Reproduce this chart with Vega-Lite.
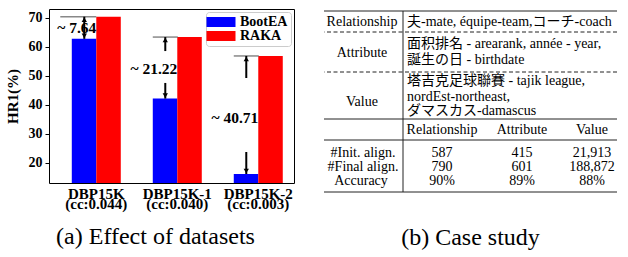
{
  "$schema": "https://vega.github.io/schema/vega-lite/v6.json",
  "background": "white",
  "padding": {"left": 4, "top": 8, "right": 0, "bottom": 0},
  "spacing": 28,
  "resolve": {"scale": {"color": "independent"}, "legend": {"color": "independent"}},
  "config": {
    "font": "Liberation Serif",
    "view": {"stroke": null},
    "axisY": {"grid": false, "domain": false, "tickSize": 4, "tickColor": "black", "labelPadding": 3, "labelFont": "Liberation Serif", "labelFontSize": 14, "labelFontWeight": "bold", "labelColor": "black", "labelOverlap": false, "titleFont": "Liberation Serif", "titleFontSize": 15, "titleFontWeight": "bold", "titleColor": "black", "titlePadding": 8},
    "axisX": {"grid": false, "ticks": false, "domain": false, "labelAngle": 0, "labelFont": "Liberation Serif", "labelFontSize": 15, "labelFontWeight": "bold", "labelLineHeight": 10, "labelPadding": 3, "labelColor": "black", "labelOverlap": false}
  },
  "datasets": {
    "bars": [
      {"dataset": "DBP15K (cc:0.044)", "method": "BootEA", "hr1": 62.8},
      {"dataset": "DBP15K (cc:0.044)", "method": "RAKA", "hr1": 70.44},
      {"dataset": "DBP15K-1 (cc:0.040)", "method": "BootEA", "hr1": 42.2},
      {"dataset": "DBP15K-1 (cc:0.040)", "method": "RAKA", "hr1": 63.42},
      {"dataset": "DBP15K-2 (cc:0.003)", "method": "BootEA", "hr1": 16.2},
      {"dataset": "DBP15K-2 (cc:0.003)", "method": "RAKA", "hr1": 56.91}
    ],
    "gaps": [
      {"dataset": "DBP15K (cc:0.044)", "ref": 70.44, "label": "~ 7.64", "labelAt": 66.6},
      {"dataset": "DBP15K-1 (cc:0.040)", "ref": 63.42, "label": "~ 21.22", "labelAt": 52.4},
      {"dataset": "DBP15K-2 (cc:0.003)", "ref": 56.91, "label": "~ 40.71", "labelAt": 35.5}
    ],
    "arrows": [
      {"dataset": "DBP15K (cc:0.044)", "from": 62.8, "to": 70.44},
      {"dataset": "DBP15K-1 (cc:0.040)", "from": 58.6, "to": 63.42},
      {"dataset": "DBP15K-1 (cc:0.040)", "from": 47.6, "to": 42.2},
      {"dataset": "DBP15K-2 (cc:0.003)", "from": 49.3, "to": 56.91},
      {"dataset": "DBP15K-2 (cc:0.003)", "from": 23.8, "to": 16.2}
    ],
    "heads": [
      {"dataset": "DBP15K (cc:0.044)", "at": 70.44, "dir": "up"},
      {"dataset": "DBP15K (cc:0.044)", "at": 62.8, "dir": "down"},
      {"dataset": "DBP15K-1 (cc:0.040)", "at": 63.42, "dir": "up"},
      {"dataset": "DBP15K-1 (cc:0.040)", "at": 42.2, "dir": "down"},
      {"dataset": "DBP15K-2 (cc:0.003)", "at": 56.91, "dir": "up"},
      {"dataset": "DBP15K-2 (cc:0.003)", "at": 16.2, "dir": "down"}
    ],
    "hrules": [
      {"y": 2, "kind": "solid"},
      {"y": 23, "kind": "dashed"},
      {"y": 63, "kind": "dashed"},
      {"y": 110, "kind": "solid"},
      {"y": 131, "kind": "solid"},
      {"y": 183, "kind": "solid"}
    ],
    "vrules": [{"x": 79, "top": 2, "bottom": 183}],
    "cells": [
      {"part": "label", "col": 38, "row": 13, "text": "Relationship"},
      {"part": "label", "col": 38, "row": 44, "text": "Attribute"},
      {"part": "label", "col": 38, "row": 93, "text": "Value"},
      {"part": "example", "col": 83, "row": 13, "text": "夫-mate, équipe-team,コーチ-coach"},
      {"part": "example", "col": 83, "row": 35, "text": "面积排名 - arearank, année - year,"},
      {"part": "example", "col": 83, "row": 51, "text": "誕生の日 - birthdate"},
      {"part": "example", "col": 83, "row": 72, "text": "塔吉克足球聯賽 - tajik league,"},
      {"part": "example", "col": 83, "row": 88, "text": "nordEst-northeast,"},
      {"part": "example", "col": 83, "row": 102, "text": "ダマスカス-damascus"},
      {"part": "label", "col": 118, "row": 121, "text": "Relationship"},
      {"part": "label", "col": 198, "row": 121, "text": "Attribute"},
      {"part": "label", "col": 268, "row": 121, "text": "Value"},
      {"part": "label", "col": 39, "row": 144, "text": "#Init. align."},
      {"part": "label", "col": 39, "row": 158, "text": "#Final align."},
      {"part": "label", "col": 37, "row": 172, "text": "Accuracy"},
      {"part": "label", "col": 118, "row": 144, "text": "587"},
      {"part": "label", "col": 198, "row": 144, "text": "415"},
      {"part": "label", "col": 268, "row": 144, "text": "21,913"},
      {"part": "label", "col": 118, "row": 158, "text": "790"},
      {"part": "label", "col": 198, "row": 158, "text": "601"},
      {"part": "label", "col": 268, "row": 158, "text": "188,872"},
      {"part": "label", "col": 118, "row": 172, "text": "90%"},
      {"part": "label", "col": 198, "row": 172, "text": "89%"},
      {"part": "label", "col": 268, "row": 172, "text": "88%"}
    ]
  },
  "hconcat": [
    {
      "width": 245,
      "height": 174,
      "view": {"stroke": "black", "strokeWidth": 1},
      "title": {"text": "(a) Effect of datasets", "orient": "bottom", "anchor": "middle", "dx": -16, "offset": 14, "font": "Liberation Serif", "fontSize": 24, "fontWeight": "normal", "color": "black"},
      "layer": [
        {
          "data": {"name": "bars"},
          "mark": {"type": "bar", "clip": true},
          "encoding": {
            "x": {"field": "dataset", "type": "nominal", "sort": null,
              "scale": {"type": "band", "paddingInner": 0.395, "paddingOuter": 0.21, "align": 0.67},
              "axis": {"title": null, "labelExpr": "split(datum.label, ' ')"}},
            "xOffset": {"field": "method", "type": "nominal", "scale": {"domain": ["BootEA", "RAKA"], "paddingInner": 0, "paddingOuter": 0}},
            "y": {"field": "hr1", "type": "quantitative",
              "scale": {"domain": [13.1, 73.1], "nice": false, "zero": false},
              "axis": {"title": "HR1(%)", "values": [20, 30, 40, 50, 60, 70]}},
            "color": {"field": "method", "type": "nominal",
              "scale": {"domain": ["BootEA", "RAKA"], "range": ["#0000ff", "#ff0000"]},
              "legend": {"title": null, "orient": "top-right", "offset": 3, "padding": 3, "strokeColor": "#cccccc", "fillColor": "white", "cornerRadius": 3, "labelFont": "Liberation Serif", "labelFontSize": 14, "labelFontWeight": "bold", "labelColor": "black", "symbolType": "M-2.9,-1H2.9V1H-2.9Z", "symbolSize": 100, "symbolStrokeWidth": 0, "symbolOpacity": 1, "symbolOffset": 5, "labelOffset": 12, "rowPadding": -1}}
          }
        },
        {
          "data": {"name": "gaps"},
          "transform": [{"filter": "datum.dataset == 'DBP15K (cc:0.044)'"}],
          "mark": {"type": "tick", "size": 36, "thickness": 1.5, "color": "#555555", "xOffset": -18},
          "encoding": {
            "x": {"field": "dataset", "type": "nominal", "sort": null, "axis": {"title": null, "labelExpr": "split(datum.label, ' ')"}},
            "y": {"field": "ref", "type": "quantitative", "axis": {"title": "HR1(%)", "values": [20, 30, 40, 50, 60, 70]}}
          }
        },
        {
          "data": {"name": "gaps"},
          "transform": [{"filter": "datum.dataset != 'DBP15K (cc:0.044)'"}],
          "mark": {"type": "tick", "size": 25, "thickness": 1.5, "color": "#555555", "xOffset": -12},
          "encoding": {
            "x": {"field": "dataset", "type": "nominal", "sort": null, "axis": {"title": null, "labelExpr": "split(datum.label, ' ')"}},
            "y": {"field": "ref", "type": "quantitative", "axis": {"title": "HR1(%)", "values": [20, 30, 40, 50, 60, 70]}}
          }
        },
        {
          "data": {"name": "arrows"},
          "mark": {"type": "rule", "strokeWidth": 2, "color": "black", "xOffset": -12},
          "encoding": {
            "x": {"field": "dataset", "type": "nominal", "sort": null, "axis": {"title": null, "labelExpr": "split(datum.label, ' ')"}},
            "y": {"field": "from", "type": "quantitative", "axis": {"title": "HR1(%)", "values": [20, 30, 40, 50, 60, 70]}},
            "y2": {"field": "to"}
          }
        },
        {
          "data": {"name": "heads"},
          "transform": [{"filter": "datum.dir == 'up'"}],
          "mark": {"type": "point", "shape": "triangle-up", "filled": true, "size": 28, "color": "black", "opacity": 1, "xOffset": -12, "yOffset": 3},
          "encoding": {
            "x": {"field": "dataset", "type": "nominal", "sort": null, "axis": {"title": null, "labelExpr": "split(datum.label, ' ')"}},
            "y": {"field": "at", "type": "quantitative", "axis": {"title": "HR1(%)", "values": [20, 30, 40, 50, 60, 70]}}
          }
        },
        {
          "data": {"name": "heads"},
          "transform": [{"filter": "datum.dir == 'down'"}],
          "mark": {"type": "point", "shape": "triangle-down", "filled": true, "size": 28, "color": "black", "opacity": 1, "xOffset": -12, "yOffset": -3},
          "encoding": {
            "x": {"field": "dataset", "type": "nominal", "sort": null, "axis": {"title": null, "labelExpr": "split(datum.label, ' ')"}},
            "y": {"field": "at", "type": "quantitative", "axis": {"title": "HR1(%)", "values": [20, 30, 40, 50, 60, 70]}}
          }
        },
        {
          "data": {"name": "gaps"},
          "mark": {"type": "text", "align": "right", "baseline": "middle", "font": "Liberation Serif", "fontSize": 15.5, "fontWeight": "bold", "color": "black"},
          "encoding": {
            "x": {"field": "dataset", "type": "nominal", "sort": null, "axis": {"title": null, "labelExpr": "split(datum.label, ' ')"}},
            "y": {"field": "labelAt", "type": "quantitative", "axis": {"title": "HR1(%)", "values": [20, 30, 40, 50, 60, 70]}},
            "text": {"field": "label"}
          }
        }
      ]
    },
    {
      "width": 293,
      "height": 183,
      "view": {"stroke": null},
      "title": {"text": "(b) Case study", "orient": "bottom", "anchor": "middle", "offset": 33, "font": "Liberation Serif", "fontSize": 24, "fontWeight": "normal", "color": "black"},
      "layer": [
        {
          "data": {"name": "hrules"},
          "transform": [{"filter": "datum.kind == 'solid'"}],
          "mark": {"type": "rule", "color": "#222222", "strokeWidth": 1},
          "encoding": {
            "y": {"field": "y", "type": "quantitative", "scale": {"domain": [0, 183], "reverse": true, "nice": false, "zero": false}, "axis": null}
          }
        },
        {
          "data": {"name": "hrules"},
          "transform": [{"filter": "datum.kind == 'dashed'"}],
          "mark": {"type": "rule", "color": "#222222", "strokeWidth": 1, "strokeDash": [4, 2.5]},
          "encoding": {
            "y": {"field": "y", "type": "quantitative", "scale": {"domain": [0, 183], "reverse": true, "nice": false, "zero": false}, "axis": null}
          }
        },
        {
          "data": {"name": "vrules"},
          "mark": {"type": "rule", "color": "#222222", "strokeWidth": 1},
          "encoding": {
            "x": {"field": "x", "type": "quantitative", "scale": {"domain": [0, 293], "nice": false, "zero": false}, "axis": null},
            "y": {"field": "top", "type": "quantitative", "scale": {"domain": [0, 183], "reverse": true, "nice": false, "zero": false}, "axis": null},
            "y2": {"field": "bottom"}
          }
        },
        {
          "data": {"name": "cells"},
          "transform": [{"filter": "datum.part == 'label'"}],
          "mark": {"type": "text", "align": "center", "baseline": "middle", "font": "Liberation Serif, Noto Sans CJK JP", "fontSize": 14, "color": "black"},
          "encoding": {
            "x": {"field": "col", "type": "quantitative", "scale": {"domain": [0, 293], "nice": false, "zero": false}, "axis": null},
            "y": {"field": "row", "type": "quantitative", "scale": {"domain": [0, 183], "reverse": true, "nice": false, "zero": false}, "axis": null},
            "text": {"field": "text"}
          }
        },
        {
          "data": {"name": "cells"},
          "transform": [{"filter": "datum.part == 'example'"}],
          "mark": {"type": "text", "align": "left", "baseline": "middle", "font": "Liberation Serif, Noto Sans CJK JP", "fontSize": 14, "color": "black"},
          "encoding": {
            "x": {"field": "col", "type": "quantitative", "scale": {"domain": [0, 293], "nice": false, "zero": false}, "axis": null},
            "y": {"field": "row", "type": "quantitative", "scale": {"domain": [0, 183], "reverse": true, "nice": false, "zero": false}, "axis": null},
            "text": {"field": "text"}
          }
        }
      ]
    }
  ]
}
